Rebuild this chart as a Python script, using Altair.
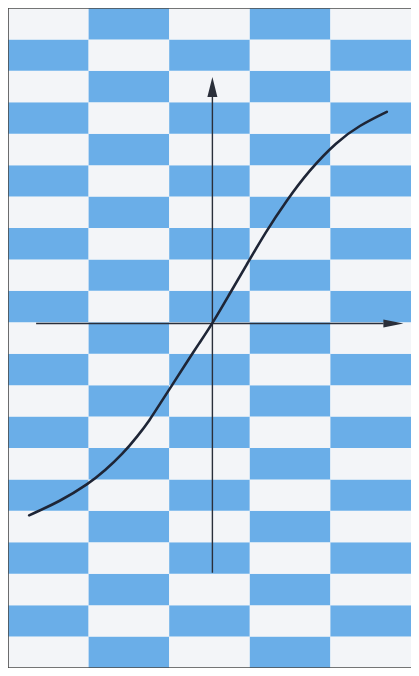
import altair as alt
import pandas as pd

# Checkerboard grid (cell units)
n_cols = 5
n_rows = 21
blue = "#6aaee8"
white = "#f3f5f8"
ink = "#1e2536"

# S-curve (x in column units, y in row units from bottom)
curve_x = [0.262, 0.645, 1.004, 1.201, 1.424, 1.609, 1.758, 1.881, 2.042, 2.190,
           2.376, 2.536, 2.747, 2.970, 3.191, 3.451, 3.736, 4.081, 4.354, 4.700]
curve_y = [4.858, 5.300, 5.868, 6.278, 6.814, 7.382, 7.886, 8.391, 9.022, 9.621,
           10.347, 10.962, 11.893, 12.871, 13.849, 14.858, 15.836, 16.751, 17.256, 17.697]

# Axes of the drawing
h_axis_x = [0.349, 4.66]
h_axis_y = [10.962]
v_axis_x = [2.536]
v_axis_y = [3.03, 18.2]
up_arrow = [2.536, 18.49]
right_arrow = [4.781, 10.962]

cells = pd.DataFrame(
    [
        {"x": c, "x2": c + 1, "y": r, "y2": r + 1, "blue": (c + r) % 2 == 1}
        for c in range(n_cols)
        for r in range(n_rows)
    ]
)

xs = alt.Scale(domain=[0, n_cols], nice=False, zero=False)
ys = alt.Scale(domain=[0, n_rows], nice=False, zero=False)

grid = alt.Chart(cells).mark_rect(strokeWidth=0).encode(
    x=alt.X("x:Q", scale=xs, axis=None),
    x2="x2:Q",
    y=alt.Y("y:Q", scale=ys, axis=None),
    y2="y2:Q",
    color=alt.condition("datum.blue", alt.value(blue), alt.value(white)),
)

# frame: left, top and bottom edges of the picture
frame_v = alt.Chart(pd.DataFrame({"x": [0], "y": [0], "y2": [n_rows]})).mark_rule(
    color="#4a4a4a", strokeWidth=1.6
).encode(x=alt.X("x:Q", scale=xs, axis=None), y=alt.Y("y:Q", scale=ys, axis=None), y2="y2:Q")
frame_h = alt.Chart(pd.DataFrame({"x": [0, 0], "x2": [n_cols, n_cols], "y": [0, n_rows]})).mark_rule(
    color="#4a4a4a", strokeWidth=1.6
).encode(x=alt.X("x:Q", scale=xs, axis=None), x2="x2:Q", y=alt.Y("y:Q", scale=ys, axis=None))

haxis = alt.Chart(pd.DataFrame({"x": [h_axis_x[0]], "x2": [h_axis_x[1]], "y": h_axis_y})).mark_rule(
    color="#2a2f3a", strokeWidth=1.6
).encode(
    x=alt.X("x:Q", scale=xs, axis=None), x2="x2:Q", y=alt.Y("y:Q", scale=ys, axis=None)
)

vaxis = alt.Chart(pd.DataFrame({"x": v_axis_x, "y": [v_axis_y[0]], "y2": [v_axis_y[1]]})).mark_rule(
    color="#2a2f3a", strokeWidth=1.4
).encode(
    x=alt.X("x:Q", scale=xs, axis=None), y=alt.Y("y:Q", scale=ys, axis=None), y2="y2:Q"
)

up_head = alt.Chart(pd.DataFrame({"x": [up_arrow[0]], "y": [up_arrow[1]]})).mark_point(
    shape="M0,-1L0.5,1L-0.5,1Z", size=400, filled=True, opacity=1, color="#2a2f3a"
).encode(x=alt.X("x:Q", scale=xs, axis=None), y=alt.Y("y:Q", scale=ys, axis=None))

right_head = alt.Chart(pd.DataFrame({"x": [right_arrow[0]], "y": [right_arrow[1]]})).mark_point(
    shape="M1,0L-1,-0.4L-1,0.4Z", size=400, filled=True, opacity=1, color="#2a2f3a"
).encode(x=alt.X("x:Q", scale=xs, axis=None), y=alt.Y("y:Q", scale=ys, axis=None))

curve = alt.Chart(pd.DataFrame({"x": curve_x, "y": curve_y, "o": list(range(len(curve_x)))})).mark_line(
    color=ink, strokeWidth=2.6, interpolate="basis", strokeCap="round"
).encode(
    x=alt.X("x:Q", scale=xs, axis=None),
    y=alt.Y("y:Q", scale=ys, axis=None),
    order="o:Q",
)

chart = alt.layer(grid, frame_v, frame_h, haxis, vaxis, up_head, right_head, curve).properties(
    width=403,
    height=660,
    padding=0,
    autosize=alt.AutoSizeParams(type="none"),
    background="#ffffff",
).configure_view(stroke=None)

chart.save("out.html", embed_options={"renderer": "svg", "actions": False})
